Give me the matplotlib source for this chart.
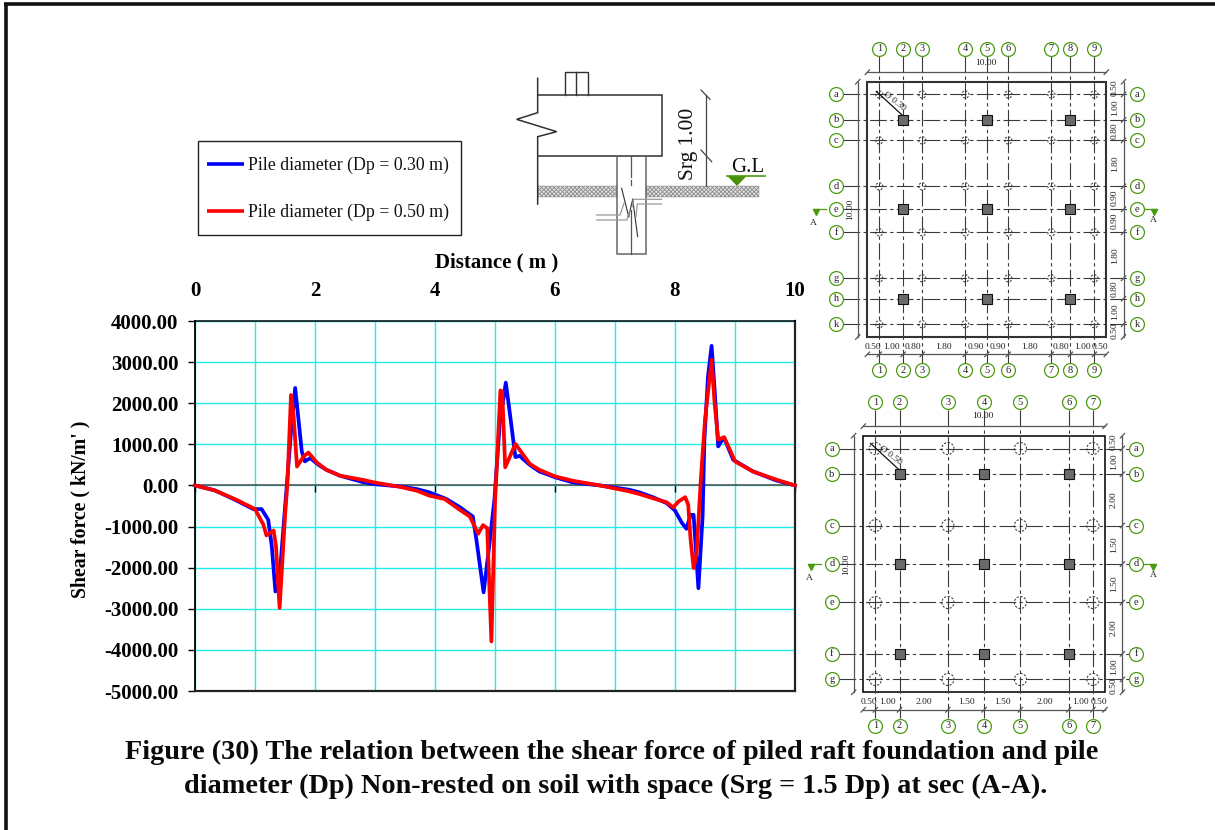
import numpy as np
import matplotlib
matplotlib.use("Agg")
import matplotlib.pyplot as plt
from matplotlib.patches import Ellipse, Polygon, Rectangle

plt.rcParams['font.family'] = ['Liberation Serif', 'DejaVu Sans']
plt.rcParams['hatch.linewidth'] = 0.6

W, H = 1215, 830

# ---------- chart data ----------
x_dp30 = [0, .33, .67, .97, 1.11, 1.22, 1.28, 1.34, 1.40, 1.53, 1.60, 1.67, 1.78, 1.83, 1.92, 2.06, 2.19, 2.42,
          2.8, 3.0, 3.42, 3.7, 3.91, 4.19, 4.41, 4.63, 4.69, 4.81, 4.91, 4.99, 5.08, 5.18, 5.24, 5.34, 5.41,
          5.58, 5.74, 6.0, 6.3, 6.75, 7.24, 7.41, 7.63, 7.86, 8.0, 8.11, 8.19, 8.26, 8.31, 8.39, 8.46, 8.49,
          8.55, 8.61, 8.66, 8.72, 8.77, 8.82, 8.97, 9.3, 9.69, 10]
v_dp30 = [0, -120, -350, -575, -575, -835, -1480, -2580, -2400, 0, 1300, 2370, 825, 585, 665, 500, 380, 235,
          80, 30, -25, -90, -170, -330, -525, -755, -1320, -2600, -1400, -350, 1515, 2500, 1840, 690, 720,
          500, 340, 200, 73, 0, -105, -170, -285, -430, -610, -900, -1055, -715, -715, -2500, -750, 1110,
          2650, 3395, 2325, 950, 1070, 1150, 625, 340, 120, 0]
x_dp50 = [0, .33, .67, 1.0, 1.14, 1.19, 1.31, 1.35, 1.41, 1.5, 1.54, 1.6, 1.64, 1.7, 1.81, 1.89, 2.03, 2.19, 2.42,
          2.8, 3.0, 3.42, 3.7, 3.91, 4.16, 4.41, 4.58, 4.72, 4.8, 4.87, 4.94, 5.0, 5.09, 5.12, 5.17, 5.34,
          5.58, 5.74, 6.0, 6.3, 6.75, 7.24, 7.41, 7.63, 7.86, 7.97, 8.06, 8.17, 8.22, 8.26, 8.31, 8.36, 8.43,
          8.5, 8.61, 8.66, 8.72, 8.82, 9.0, 9.3, 9.69, 10]
v_dp50 = [0, -120, -335, -575, -955, -1215, -1095, -1480, -2980, -750, 50, 2200, 1760, 460, 705, 800, 560, 380, 235,
          135, 70, -35, -130, -250, -330, -590, -755, -1175, -965, -1040, -3795, -430, 2310, 2285, 440, 1010,
          525, 380, 220, 113, 0, -145, -210, -310, -410, -535, -390, -285, -470, -1320, -2010, -1645, 140,
          1600, 3055, 2000, 1110, 1175, 585, 340, 140, 0]
x_ticks = [0, 2, 4, 6, 8, 10]
x_tick_labels = ['0', '2', '4', '6', '8', '10']
x_minor = [1, 3, 5, 7, 9]
y_ticks = [4000, 3000, 2000, 1000, 0, -1000, -2000, -3000, -4000, -5000]
y_tick_labels = ['4000.00', '3000.00', '2000.00', '1000.00', '0.00', '-1000.00', '-2000.00', '-3000.00',
                 '-4000.00', '-5000.00']
series_names = ['Pile diameter (Dp = 0.30 m)', 'Pile diameter (Dp = 0.50 m)']

# ---------- plan data ----------
plan1_x_spacing = [0.50, 1.00, 0.80, 1.80, 0.90, 0.90, 1.80, 0.80, 1.00, 0.50]
plan1_y_spacing = [0.50, 1.00, 0.80, 1.80, 0.90, 0.90, 1.80, 0.80, 1.00, 0.50]
plan1_cols = ['1', '2', '3', '4', '5', '6', '7', '8', '9']
plan1_rows = ['a', 'b', 'c', 'd', 'e', 'f', 'g', 'h', 'k']
plan1_pile_cols = [0, 2, 3, 5, 6, 8]
plan1_pile_rows = [0, 2, 3, 5, 6, 8]
plan1_col_cols = [1, 4, 7]
plan1_col_rows = [1, 4, 7]
plan2_x_spacing = [0.50, 1.00, 2.00, 1.50, 1.50, 2.00, 1.00, 0.50]
plan2_y_spacing = [0.50, 1.00, 2.00, 1.50, 1.50, 2.00, 1.00, 0.50]
plan2_cols = ['1', '2', '3', '4', '5', '6', '7']
plan2_rows = ['a', 'b', 'c', 'd', 'e', 'f', 'g']
plan2_pile_cols = [0, 2, 4, 6]
plan2_pile_rows = [0, 2, 4, 6]
plan2_col_cols = [1, 3, 5]
plan2_col_rows = [1, 3, 5]

GREEN = '#4b9a10'
DARK = '#303030'

fig = plt.figure(figsize=(W / 100, H / 100), dpi=100, facecolor='white')


def rect(x0, y0, x1, y1):
    return [x0 / W, 1 - y1 / H, (x1 - x0) / W, (y1 - y0) / H]


# ---------- overlay in pixel coordinates ----------
ov = fig.add_axes([0, 0, 1, 1], zorder=0)
ov.set_xlim(0, W)
ov.set_ylim(H, 0)
ov.axis('off')
ov.plot([5.5, 5.5], [4.5, H], color='#111111', lw=2.6, solid_capstyle='butt')
ov.plot([4, W], [4.5, 4.5], color='#111111', lw=2.6, solid_capstyle='butt')

# legend
ov.add_patch(Rectangle((197.5, 141.5), 263, 94, fc='white', ec='#222222', lw=1))
for yy, c, name in zip([164, 211], ['#0000ff', '#ff0000'], series_names):
    ov.plot([207, 244], [yy, yy], color=c, lw=2.6, solid_capstyle='butt')
    ov.text(248, yy + 1, name, fontsize=12.75, va='center', ha='left', color='#111111')


def Z(pts):
    a = np.array(pts, float)
    return 500 + a[:, 0] / 3, 60 + a[:, 1] / 3


def draw(pts, color=DARK, lw=1.0, **kw):
    xs, ys = Z(pts)
    ov.plot(xs, ys, color=color, lw=lw, solid_joinstyle='miter', **kw)


# section sketch
for x0, x1 in [(113, 351), (437, 778)]:
    ov.add_patch(Rectangle((500 + x0 / 3, 60 + 378 / 3), (x1 - x0) / 3, 34 / 3, fc='#e4e4e4', ec='#8a8a8a',
                           hatch='xxxxxxxx', lw=0.3))
draw([(195, 104), (195, 37), (263, 37), (263, 104)])
draw([(229, 37), (229, 104)])
draw([(113, 104), (485, 104), (485, 287), (113, 287)], lw=1.1)
draw([(113, 55), (113, 158), (50, 178), (170, 215), (113, 230), (113, 432)], lw=1.1)
draw([(351, 287), (351, 583), (437, 583), (437, 287)], color='#666666', lw=1.1)
draw([(393, 287), (393, 350)], color='#555555', lw=0.9)
draw([(393, 360), (393, 375)], color='#555555', lw=0.9)
draw([(393, 450), (393, 583)], color='#555555', lw=0.9)
draw([(365, 385), (386, 470)], lw=0.8)
draw([(398, 418), (413, 530)], lw=0.8)
draw([(386, 470), (398, 418)], lw=0.8)
draw([(290, 465), (360, 465), (372, 430)], color='#999999', lw=0.9)
draw([(290, 480), (380, 480), (390, 450)], color='#999999', lw=0.9)
draw([(485, 418), (400, 418), (398, 440)], color='#999999', lw=0.9)
draw([(485, 432), (412, 432), (408, 470)], color='#999999', lw=0.9)
draw([(617, 105), (617, 378)], color='#444444', lw=0.9)
draw([(603, 90), (630, 118)], color='#444444', lw=0.9)
draw([(603, 270), (635, 305)], color='#444444', lw=0.9)
ov.text(688, 60 + 252 / 3, 'Srg 1.00', rotation=90, fontsize=15.5, ha='center', va='center',
        color='#111111')
ov.text(500 + 744 / 3, 60 + 322 / 3, 'G.L', fontsize=15, ha='center', va='center', color='#111111')
draw([(680, 348), (795, 348)], color=GREEN, lw=1.2)
xs, ys = Z([(682, 348), (740, 348), (711, 378)])
ov.add_patch(Polygon(np.column_stack([xs, ys]), fc='#4a8f0a', ec='none'))

# ---------- main chart ----------
ax = fig.add_axes(rect(195, 321, 795, 691), zorder=1)
ax.set_xlim(0, 10)
ax.set_ylim(-5000, 4000)
ax.set_facecolor('none')
ax.set_xticks(x_ticks)
ax.set_xticklabels(x_tick_labels)
ax.set_xticks(x_minor, minor=True)
ax.set_yticks(y_ticks)
ax.set_yticklabels(y_tick_labels, fontsize=15, fontweight='bold')
ax.grid(True, which='major', color='#22ecec', lw=1.0)
ax.grid(True, which='minor', axis='x', color='#22ecec', lw=1.0)
ax.set_axisbelow(True)
ax.spines['bottom'].set_position(('data', 0))
ax.spines['bottom'].set_color('#555555')
ax.spines['bottom'].set_linewidth(1.2)
ax.spines['left'].set_linewidth(1.3)
ax.spines['top'].set_linewidth(1.1)
ax.spines['right'].set_linewidth(1.6)
ax.spines['right'].set_color('#222222')
ax.plot([0, 1], [0, 0], transform=ax.transAxes, color='#222222', lw=1.6, clip_on=False, zorder=5)
ax.tick_params(axis='x', which='major', bottom=True, top=False, labelbottom=False, labeltop=True, length=5, width=1,
               pad=18)
ax.tick_params(axis='x', which='minor', bottom=False, top=False, length=0)
ax.tick_params(axis='y', left=True, length=5, width=1, pad=7)
for tk in ax.xaxis.get_major_ticks():
    tk.label2.set_fontsize(15)
    tk.label2.set_fontweight('bold')
    tk.set_pad(18 - 8.5)
ax.plot(x_dp30, v_dp30, color='#0000ff', lw=2.7, solid_joinstyle='round', zorder=3, clip_on=False)
ax.plot(x_dp50, v_dp50, color='#ff0000', lw=2.7, solid_joinstyle='round', zorder=4, clip_on=False)

ov.text(497, 262, 'Distance ( m )', fontsize=15, fontweight='bold', ha='center', va='center', color='#000000')
ov.text(80.5, 509, "Shear force ( kN/m' )", rotation=90, fontsize=14.2, fontweight='bold', ha='center', va='center',
        color='#000000')
ov.text(612, 752.5, 'Figure (30) The relation between the shear force of piled raft foundation and pile',
        fontsize=20.35, fontweight='bold', ha='center', va='center', color='#0a0a0a')
ov.text(616, 786.5, 'diameter (Dp) Non-rested on soil with space (Srg = 1.5 Dp) at sec (A-A).', fontsize=20.35,
        fontweight='bold', ha='center', va='center', color='#0a0a0a')


# ---------- plans ----------
def plan(box, xs, ys, cols, rows, pcols, prows, ccols, crows, dp, dia_label, frame_c, frame_w, a_row):
    p = fig.add_axes(rect(*box), zorder=2)
    p.set_xlim(0, 10)
    p.set_ylim(10, 0)
    p.axis('off')
    p.patch.set_alpha(0)
    asp = (box[2] - box[0]) / (box[3] - box[1])
    xg = np.cumsum(xs)[:-1]
    yg = np.cumsum(ys)[:-1]
    p.add_patch(Rectangle((0, 0), 10, 10, fc='none', ec=frame_c, lw=frame_w, clip_on=False))
    dd = (0, (15, 3, 3, 3))
    for x in xg:
        p.plot([x, x], [-1.02, 11.02], color='#3a3a3a', lw=0.8, ls=dd, clip_on=False, zorder=2)
    for y in yg:
        p.plot([-1.02, 11.02], [y, y], color='#3a3a3a', lw=0.8, ls=dd, clip_on=False, zorder=2)
    # dimension lines
    dc = '#555555'
    p.plot([0, 10], [-0.37, -0.37], color=dc, lw=0.9, clip_on=False)
    p.plot([0, 10], [10.68, 10.68], color=dc, lw=0.9, clip_on=False)
    p.plot([-0.4, -0.4], [0, 10], color=dc, lw=0.9, clip_on=False)
    p.plot([10.72, 10.72], [0, 10], color=dc, lw=0.9, clip_on=False)
    s = 0.09
    for x in [0, 10]:
        p.plot([x - s, x + s], [-0.37 + s, -0.37 - s], color=dc, lw=0.9, clip_on=False)
    for x in np.r_[0, xg, 10]:
        p.plot([x - s, x + s], [10.68 + s, 10.68 - s], color=dc, lw=0.9, clip_on=False)
    for y in np.r_[0, yg, 10]:
        p.plot([10.72 - s, 10.72 + s], [y + s, y - s], color=dc, lw=0.9, clip_on=False)
    for y in [0, 10]:
        p.plot([-0.4 - s, -0.4 + s], [y + s, y - s], color=dc, lw=0.9, clip_on=False)
    fs = 6.8
    p.text(4.95, -0.75, '10.00', fontsize=fs, ha='center', va='center', color='#222222')
    p.text(-0.72, 5, '10.00', fontsize=fs, rotation=90, ha='center', va='center', color='#222222')
    edges = np.r_[0, np.cumsum(xs)]
    for v, a, b in zip(xs, edges[:-1], edges[1:]):
        p.text((a + b) / 2, 10.38, f'{v:.2f}', fontsize=fs, ha='center', va='center', color='#222222', clip_on=False)
    edges = np.r_[0, np.cumsum(ys)]
    for v, a, b in zip(ys, edges[:-1], edges[1:]):
        p.text(10.36, (a + b) / 2, f'{v:.2f}', fontsize=fs, rotation=90, ha='center', va='center', color='#222222',
               clip_on=False)
    # piles and columns
    for i in pcols:
        for j in prows:
            p.add_patch(Ellipse((xg[i], yg[j]), dp, dp * asp, fc='white', ec='#444444', lw=0.8, ls=(0, (2, 1.4)),
                                zorder=1.5, clip_on=False))
    for i in ccols:
        for j in crows:
            p.plot([xg[i]], [yg[j]], marker='s', ms=7.3, mfc='#6a6a6a', mec='#111111', mew=0.8, zorder=4, ls='none')
    # bubbles
    for x, lab in zip(xg, cols):
        for y in [-1.3, 11.3]:
            p.plot([x], [y], marker='o', ms=10, mfc='white', mec=GREEN, mew=0.9, clip_on=False, zorder=5, ls='none')
            p.text(x, y, lab, fontsize=7.5, ha='center', va='center', zorder=6, color='#222222', clip_on=False)
    for y, lab in zip(yg, rows):
        for x in [-1.3, 11.3]:
            p.plot([x], [y], marker='o', ms=10, mfc='white', mec=GREEN, mew=0.9, clip_on=False, zorder=5, ls='none')
            p.text(x, y, lab, fontsize=7.5, ha='center', va='center', zorder=6, color='#222222', clip_on=False)
    # leader
    p.plot([xg[0] - dp * 0.4, xg[1] - 0.05], [yg[0] - dp * 0.4, yg[1] - 0.2], color='#111111', lw=0.9, zorder=4)
    p.text((xg[0] + xg[1]) / 2 + 0.13, (yg[0] + yg[1]) / 2 - 0.22, dia_label, fontsize=fs, rotation=-38, ha='center',
           va='center', color='#222222', zorder=6)
    # section mark A-A
    y = yg[a_row]
    p.plot([-2.28, -1.73], [y, y], color=GREEN, lw=0.9, clip_on=False)
    p.plot([11.55, 12.13], [y, y], color=GREEN, lw=0.9, clip_on=False)
    p.plot([-2.16], [y + 0.12], marker='v', ms=4.5, color=GREEN, clip_on=False, ls='none')
    p.plot([12.0], [y + 0.12], marker='v', ms=4.5, color=GREEN, clip_on=False, ls='none')
    p.text(-2.24, y + 0.55, 'A', fontsize=fs, ha='center', va='center', color='#222222', clip_on=False)
    p.text(11.98, y + 0.42, 'A', fontsize=fs, ha='center', va='center', color='#222222', clip_on=False)


plan((867.3, 81.7, 1106.3, 337), plan1_x_spacing, plan1_y_spacing, plan1_cols, plan1_rows, plan1_pile_cols,
     plan1_pile_rows, plan1_col_cols, plan1_col_rows, 0.30, 'Ø 0.30', '#333333', 1.5, 4)
plan((863.3, 435.7, 1105, 692.3), plan2_x_spacing, plan2_y_spacing, plan2_cols, plan2_rows, plan2_pile_cols,
     plan2_pile_rows, plan2_col_cols, plan2_col_rows, 0.50, 'Ø 0.50', '#111111', 1.2, 3)

fig.savefig('out.png', dpi=100, facecolor='white')
